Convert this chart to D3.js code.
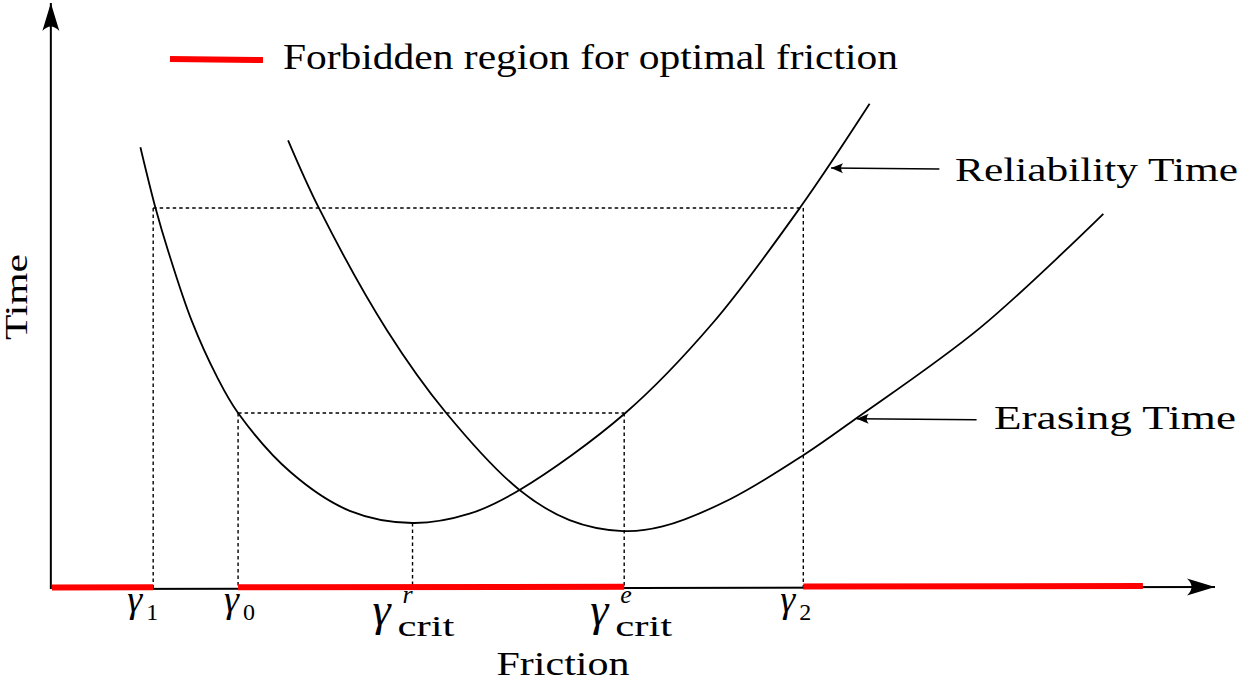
<!DOCTYPE html>
<html>
<head>
<meta charset="utf-8">
<title>Reliability and Erasing Time vs Friction</title>
<script src="https://d3js.org/d3.v7.min.js"></script>
<style>
  body { margin: 0; background: #fff; }
  svg text { font-family: 'Liberation Serif', 'Times New Roman', 'DejaVu Serif', serif; fill: #000; }
</style>
</head>
<body>
<svg id="chart"></svg>
<script>
// friction (x) and time (y) in arbitrary units
const reliability = [
  [7.6, 76.3], [8.9, 65.8], [10.0, 58.3], [12.0, 46.4], [14.2, 36.6], [16.0, 30.4],
  [20.5, 20.2], [25.6, 13.5], [31.0, 11.4], [35.9, 13.0], [40.2, 17.1], [49.3, 30.4],
  [56.8, 45.9], [64.3, 65.8], [70.3, 83.8]
];
const erasing = [
  [20.3, 77.5], [23.0, 65.6], [28.8, 44.7], [33.9, 30.4], [40.2, 17.1], [44.5, 11.9],
  [49.1, 10.0], [52.5, 10.8], [58.3, 15.5], [64.6, 23.1], [69.1, 29.4], [79.8, 45.1],
  [90.4, 64.8]
];
// marked friction values
const gammaKeys = ["g1", "g0", "gr", "ge", "g2"];
const gammaValues = [8.7, 16.0, 31.0, 49.2, 64.6];
// forbidden intervals on the friction axis
const forbidden = [[0, 8.7], [16.0, 49.2], [64.6, 93.8]];
// time levels for the dotted guides
const levelHigh = 65.8;
const levelLow = 30.4;
const minReliability = 11.4;
// annotations: [label, curve point, tail friction]
const annotations = [
  ["Reliability Time", [66.9, 72.7], 76.3],
  ["Erasing Time", [69.1, 29.4], 79.5]
];

const width = 1242, height = 682;
const svg = d3.select("#chart").attr("width", width).attr("height", height);

const x = d3.scaleLinear().domain([0, 100]).range([52, 1215]);
const y = d3.scaleLinear().domain([0, 100]).range([589, 10]);
const g = Object.fromEntries(gammaKeys.map((k, i) => [k, gammaValues[i]]));

const defs = svg.append("defs");
defs.append("marker")
    .attr("id", "bigArrow")
    .attr("markerUnits", "userSpaceOnUse")
    .attr("viewBox", "-30 -10 32 20")
    .attr("markerWidth", 32).attr("markerHeight", 20)
    .attr("refX", 0).attr("refY", 0)
    .attr("orient", "auto")
  .append("path")
    .attr("d", "M0,0 L-28,-8.5 Q-19,0 -28,8.5 Z")
    .attr("fill", "#000");
defs.append("marker")
    .attr("id", "smallArrow")
    .attr("markerUnits", "userSpaceOnUse")
    .attr("viewBox", "-14 -6 16 12")
    .attr("markerWidth", 16).attr("markerHeight", 12)
    .attr("refX", 0).attr("refY", 0)
    .attr("orient", "auto")
  .append("path")
    .attr("d", "M0,0 L-12,-5 Q-8,0 -12,5 Z")
    .attr("fill", "#000");

// dotted guides
const guides = [
  [[g.g1, levelHigh], [g.g2, levelHigh]],
  [[g.g1, levelHigh], [g.g1, 0]],
  [[g.g2, levelHigh], [g.g2, 0]],
  [[g.g0, levelLow], [g.ge, levelLow]],
  [[g.g0, levelLow], [g.g0, 0]],
  [[g.ge, levelLow], [g.ge, 0]],
  [[g.gr, minReliability], [g.gr, 0]]
];
svg.append("g").selectAll("line").data(guides).join("line")
    .attr("x1", d => x(d[0][0])).attr("y1", d => y(d[0][1]))
    .attr("x2", d => x(d[1][0])).attr("y2", d => y(d[1][1]))
    .attr("stroke", "#000").attr("stroke-width", 1.4)
    .attr("stroke-dasharray", "3.5,3");

// axes
svg.append("line")
    .attr("x1", x(0)).attr("y1", y(0)).attr("x2", x(100)).attr("y2", y(0) - 2)
    .attr("stroke", "#000").attr("stroke-width", 2)
    .attr("marker-end", "url(#bigArrow)");
svg.append("line")
    .attr("x1", x(-0.1)).attr("y1", y(0)).attr("x2", x(-0.1)).attr("y2", y(101.2))
    .attr("stroke", "#000").attr("stroke-width", 2)
    .attr("marker-end", "url(#bigArrow)");

// forbidden regions
svg.append("g").selectAll("line").data(forbidden).join("line")
    .attr("x1", d => x(d[0])).attr("x2", d => x(d[1]))
    .attr("y1", d => y(0) - 1.5 - d[0] * 0.015).attr("y2", d => y(0) - 1.5 - d[1] * 0.015)
    .attr("stroke", "#ff0000").attr("stroke-width", 6);

// curves
const line = d3.line().x(d => x(d[0])).y(d => y(d[1])).curve(d3.curveCatmullRom.alpha(0.5));
svg.append("g").selectAll("path").data([reliability, erasing]).join("path")
    .attr("d", line)
    .attr("fill", "none").attr("stroke", "#000").attr("stroke-width", 1.8);

// annotations
annotations.forEach(([label, pt, tail]) => {
  svg.append("line")
      .attr("x1", x(tail)).attr("y1", y(pt[1]) + 1)
      .attr("x2", x(pt[0]) + 1).attr("y2", y(pt[1]))
      .attr("stroke", "#000").attr("stroke-width", 1.5)
      .attr("marker-end", "url(#smallArrow)");
});
svg.append("text").attr("x", 955).attr("y", 181)
    .attr("font-size", 33).attr("textLength", 283).attr("lengthAdjust", "spacingAndGlyphs")
    .text(annotations[0][0]);
svg.append("text").attr("x", 994).attr("y", 429)
    .attr("font-size", 33).attr("textLength", 242).attr("lengthAdjust", "spacingAndGlyphs")
    .text(annotations[1][0]);

// legend
svg.append("line").attr("x1", 170).attr("x2", 263).attr("y1", 59).attr("y2", 60)
    .attr("stroke", "#ff0000").attr("stroke-width", 6);
svg.append("text").attr("x", 283).attr("y", 69)
    .attr("font-size", 35).attr("textLength", 615).attr("lengthAdjust", "spacingAndGlyphs")
    .text("Forbidden region for optimal friction");

// axis titles
svg.append("text").attr("x", 563).attr("y", 675).attr("text-anchor", "middle")
    .attr("font-size", 33).attr("textLength", 133).attr("lengthAdjust", "spacingAndGlyphs")
    .text("Friction");
svg.append("text").attr("transform", "translate(27,297) rotate(-90)").attr("text-anchor", "middle")
    .attr("font-size", 31).attr("textLength", 86).attr("lengthAdjust", "spacingAndGlyphs")
    .text("Time");

// gamma tick labels: [key, subscript, x offset of the gamma]
const simpleLabels = [["g1", "1", -26], ["g0", "0", -14], ["g2", "2", -23]];
simpleLabels.forEach(([k, sub, dx]) => {
  svg.append("text").attr("x", x(g[k]) + dx).attr("y", 612)
      .attr("font-size", 38).attr("font-style", "italic").text("γ");
  svg.append("text").attr("x", x(g[k]) + dx + 19).attr("y", 620)
      .attr("font-size", 24).text(sub);
});
// critical labels: [key, superscript, x offset of the gamma]
const critLabels = [["gr", "r", -40], ["ge", "e", -34]];
critLabels.forEach(([k, sup, dx]) => {
  const x0 = x(g[k]) + dx;
  svg.append("text").attr("x", x0).attr("y", 625)
      .attr("font-size", 46).attr("font-style", "italic").text("γ");
  svg.append("text").attr("x", x0 + 30).attr("y", 603)
      .attr("font-size", 26).attr("font-style", "italic").text(sup);
  svg.append("text").attr("x", x0 + 25).attr("y", 636)
      .attr("font-size", 30).attr("textLength", 57).attr("lengthAdjust", "spacingAndGlyphs")
      .text("crit");
});
</script>
</body>
</html>
